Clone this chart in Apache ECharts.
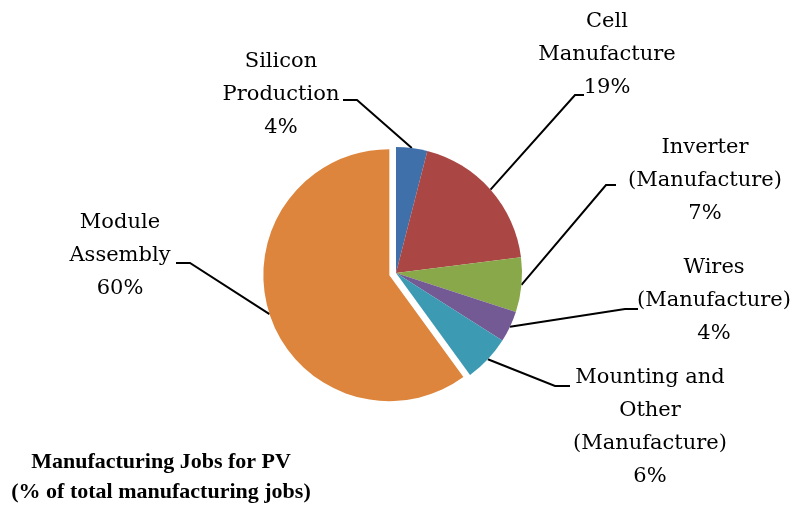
<!DOCTYPE html>
<html>
<head>
<meta charset="utf-8">
<script src="https://cdn.jsdelivr.net/npm/echarts@6/dist/echarts.min.js"></script>
<style>
  html, body { margin: 0; padding: 0; background: #fff; }
  #chart { width: 793px; height: 505px; }
</style>
</head>
<body>
<div id="chart"></div>
<script>
// 数据
const categories = [
  "Silicon\nProduction",
  "Cell\nManufacture",
  "Inverter\n(Manufacture)",
  "Wires\n(Manufacture)",
  "Mounting and\nOther\n(Manufacture)",
  "Module\nAssembly"
];
const shares = [4, 19, 7, 4, 6, 60];
const colors = ["#4070aa", "#aa4644", "#88a84a", "#745a95", "#3c9ab2", "#dd853c"];
const explodedIndex = 5; // 分离出来的扇区

// 标签位置（文字中心、折点、线尾）
const labelCenters = [[281, 95], [607, 55], [705, 181], [714, 301], [650, 427], [120, 256]];
const elbows = [[357, 100], [575, 95], [606, 185], [625, 309], [555, 386], [190, 263]];
const lineEnds = [[343, 100], [584, 95], [616, 185], [638, 309], [570, 386], [176, 263]];

const center = [396, 273];
const radius = 126;
const explodeOffset = 7;

// 计算分离扇区的偏移方向（从12点钟顺时针）
const total = shares.reduce((a, b) => a + b, 0);
const before = shares.slice(0, explodedIndex).reduce((a, b) => a + b, 0);
const midAngle = ((before + shares[explodedIndex] / 2) / total) * Math.PI * 2;
const explodedCenter = [
  center[0] + Math.sin(midAngle) * explodeOffset,
  center[1] - Math.cos(midAngle) * explodeOffset
];

const chart = echarts.init(document.getElementById("chart"));

const labelStyle = {
  formatter: "{b}\n{d}%",
  fontFamily: "DejaVu Serif",
  fontSize: 21,
  lineHeight: 33,
  color: "#000",
  align: "center"
};

const labelLayout = function (params) {
  const i = params.dataIndex;
  const start = params.labelLinePoints ? params.labelLinePoints[0] : elbows[i];
  return {
    x: labelCenters[i][0],
    y: labelCenters[i][1],
    align: "center",
    verticalAlign: "middle",
    labelLinePoints: [start, elbows[i], lineEnds[i]]
  };
};

// 生成某个系列的数据：只显示指定的扇区
const makeData = (visible) =>
  categories.map((name, i) => {
    const show = visible(i);
    return {
      name: name,
      value: shares[i],
      itemStyle: { color: show ? colors[i] : "rgba(0,0,0,0)" },
      label: { show: show },
      labelLine: { show: show }
    };
  });

const baseSeries = {
  type: "pie",
  radius: [0, radius],
  startAngle: 90,
  clockwise: true,
  avoidLabelOverlap: false,
  silent: true,
  label: Object.assign({ show: true }, labelStyle),
  labelLine: {
    show: true,
    lineStyle: { color: "#000", width: 2 }
  },
  labelLayout: labelLayout
};

const option = {
  animation: false,
  title: {
    text: "Manufacturing Jobs for PV\n(% of total manufacturing jobs)",
    left: 156,
    top: 442,
    textAlign: "center",
    textStyle: {
      fontFamily: "Liberation Serif",
      fontWeight: "bold",
      fontSize: 22,
      lineHeight: 30,
      color: "#000"
    }
  },
  series: [
    Object.assign({}, baseSeries, {
      center: center,
      data: makeData((i) => i !== explodedIndex)
    }),
    Object.assign({}, baseSeries, {
      center: explodedCenter,
      data: makeData((i) => i === explodedIndex)
    })
  ]
};

chart.setOption(option);
</script>
</body>
</html>
